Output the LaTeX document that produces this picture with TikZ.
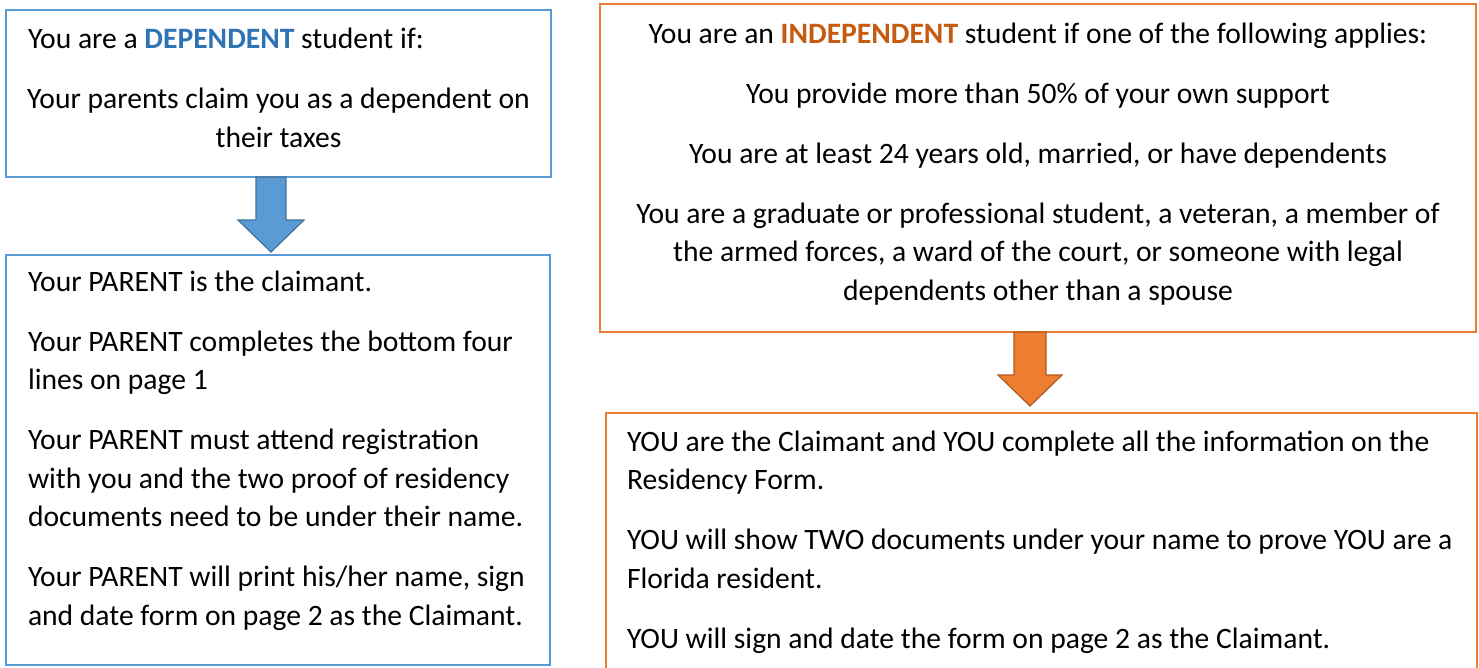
\documentclass[tikz,border=0pt]{standalone}
\usepackage{fontspec}
\setmainfont{Carlito}
\usetikzlibrary{calc}
\definecolor{bluebd}{HTML}{5B9BD5}
\definecolor{blueol}{HTML}{41719C}
\definecolor{bluetx}{HTML}{2E74B5}
\definecolor{orbd}{HTML}{ED7D31}
\definecolor{orol}{HTML}{AE5A21}
\definecolor{ortx}{HTML}{C55A11}
\begin{document}
\begin{tikzpicture}[x=1pt,y=-1pt,
  txt/.style={inner sep=0pt, outer sep=0pt, font=\fontsize{29.6}{38.5}\selectfont},
  bbox/.style={draw=bluebd, line width=2.2pt, inner sep=0pt, outer sep=0pt, anchor=north west},
  obox/.style={draw=orbd, line width=2.2pt, inner sep=0pt, outer sep=0pt, anchor=north west},
  barrow/.style={fill=bluebd, draw=blueol, line width=1.2pt, line join=miter},
  oarrow/.style={fill=orbd, draw=orol, line width=1.2pt, line join=miter}]
\useasboundingbox (0,0) rectangle (1479,667);
\clip (0,0) rectangle (1479,667);
\fill[white] (0,0) rectangle (1479,667);

% boxes
\node[bbox, minimum width=545pt, minimum height=167pt] (b1) at (6,10) {};
\node[bbox, minimum width=544pt, minimum height=410pt] (b2) at (6,255) {};
\node[obox, minimum width=876pt, minimum height=328pt] (b3) at (600,4) {};
\node[obox, minimum width=871pt, minimum height=290pt] (b4) at (606,413) {};

% block arrows
\coordinate (a1s) at ([xshift=-7.5pt]b1.south);
\coordinate (a1e) at ([xshift=-7pt,yshift=3pt]b2.north);
\draw[barrow] ($(a1s)+(-15,0)$) -- ($(a1e)+(-15,-32)$) -- ($(a1e)+(-33,-32)$) -- (a1e)
  -- ($(a1e)+(33,-32)$) -- ($(a1e)+(15,-32)$) -- ($(a1s)+(15,0)$) -- cycle;

\coordinate (a2s) at ([xshift=-8pt]b3.south);
\coordinate (a2e) at ([xshift=-11.5pt,yshift=7pt]b4.north);
\draw[oarrow] ($(a2s)+(-16,0)$) -- ($(a2e)+(-16,-31)$) -- ($(a2e)+(-32,-31)$) -- (a2e)
  -- ($(a2e)+(32,-31)$) -- ($(a2e)+(16,-31)$) -- ($(a2s)+(16,0)$) -- cycle;

% texts (multi-line nodes: base anchor = baseline of last line)
\node[txt, anchor=base west] (t1) at (28,48) {You are a \textcolor{bluetx}{\textbf{DEPENDENT}} student if:};
\node[txt, anchor=base, align=center] (t2) at (278.5,147) {Your parents claim you as a dependent on\\their taxes};

\node[txt, anchor=base west, align=left] (t3) at (28,625) {Your PARENT is the claimant.\\[21.5pt]
Your PARENT completes the bottom four\\lines on page 1\\[21.5pt]
Your PARENT must attend registration\\with you and the two proof of residency\\documents need to be under their name.\\[21.5pt]
Your PARENT will print his/her name, sign\\and date form on page 2 as the Claimant.};

\node[txt, anchor=base, align=center] (t4) at (1038,300) {You are an \textcolor{ortx}{\textbf{INDEPENDENT}} student if one of the following applies:\\[21.5pt]
You provide more than 50\% of your own support\\[21.5pt]
You are at least 24 years old, married, or have dependents\\[21.5pt]
You are a graduate or professional student, a veteran, a member of\\the armed forces, a ward of the court, or someone with legal\\dependents other than a spouse};

\node[txt, anchor=base west, align=left] (t5) at (627,648) {YOU are the Claimant and YOU complete all the information on the\\Residency Form.\\[21.5pt]
YOU will show TWO documents under your name to prove YOU are a\\Florida resident.\\[21.5pt]
YOU will sign and date the form on page 2 as the Claimant.};
\end{tikzpicture}
\end{document}
